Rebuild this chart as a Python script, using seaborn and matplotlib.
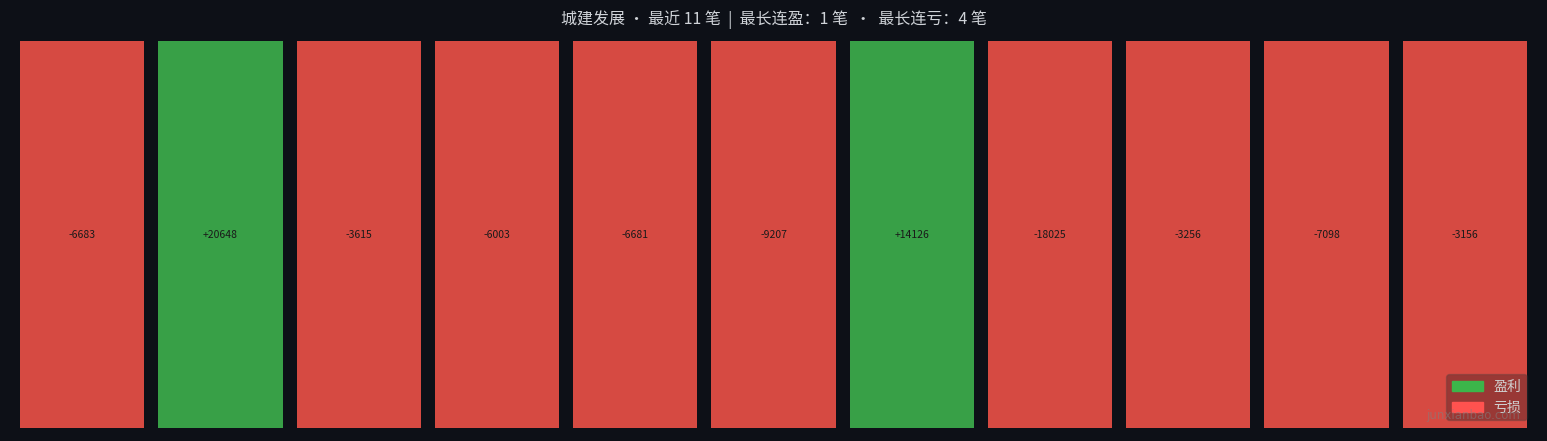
import matplotlib
matplotlib.use("Agg")
import matplotlib.pyplot as plt
import matplotlib.patches as mpatches
import pandas as pd
import seaborn as sns

# recent trades, pnl per trade
trade_no = list(range(1, 12))
pnl = [-6683, 20648, -3615, -6003, -6681, -9207, 14126, -18025, -3256, -7098, -3156]
title_text = "城建发展 · 最近 11 笔  |  最长连盈：1 笔  ·  最长连亏：4 笔"

bg = "#0d1017"
win_color = "#38a047"
loss_color = "#d64a42"

sns.set_theme(style="dark")
plt.rcParams['font.family'] = ['Noto Sans CJK SC', 'DejaVu Sans']

df = pd.DataFrame({"trade": trade_no, "pnl": pnl})
df["height"] = 1
df["label"] = [f"{v:+d}" for v in pnl]
colors = [win_color if v > 0 else loss_color for v in pnl]

fig = plt.figure(figsize=(15.47, 4.41), dpi=100, facecolor=bg)
ax = fig.add_axes([20 / 1547, 13 / 441, 1507 / 1547, 387 / 441])
ax.set_facecolor(bg)

sns.barplot(data=df, x="trade", y="height", hue="trade", palette=colors,
            width=0.9, legend=False, saturation=1, linewidth=0, ax=ax)

for cont, lab in zip(ax.containers, df["label"]):
    ax.bar_label(cont, labels=[lab], label_type="center", fontsize=7.5, color="#1a1a1a")

ax.set_xlim(-0.45, len(pnl) - 0.55)
ax.set_ylim(0, 1)
ax.set_xticks([])
ax.set_yticks([])
ax.set_xlabel("")
ax.set_ylabel("")
for s in ax.spines.values():
    s.set_visible(False)

fig.suptitle(title_text, color="#cfd3d8", fontsize=11.5, y=1 - 20 / 441, va="center")

handles = [mpatches.Patch(color="#3cb54a", label="盈利"),
           mpatches.Patch(color="#ff524f", label="亏损")]
leg = ax.legend(handles=handles, loc="lower right", bbox_to_anchor=(1.0, 0.02),
                borderaxespad=0, fontsize=10, frameon=True,
                facecolor=bg, edgecolor="#444444", framealpha=0.3,
                labelcolor="#d0d0d0", handlelength=2.2)

# watermark drawn on top of everything
fig.text(1473 / 1547, 1 - 416 / 441, "junxianbao.com", color="#808080", alpha=0.55,
         fontsize=8.5, ha="center", va="center", family="DejaVu Sans", zorder=10)

fig.savefig("out.png", dpi=100, facecolor=bg)
